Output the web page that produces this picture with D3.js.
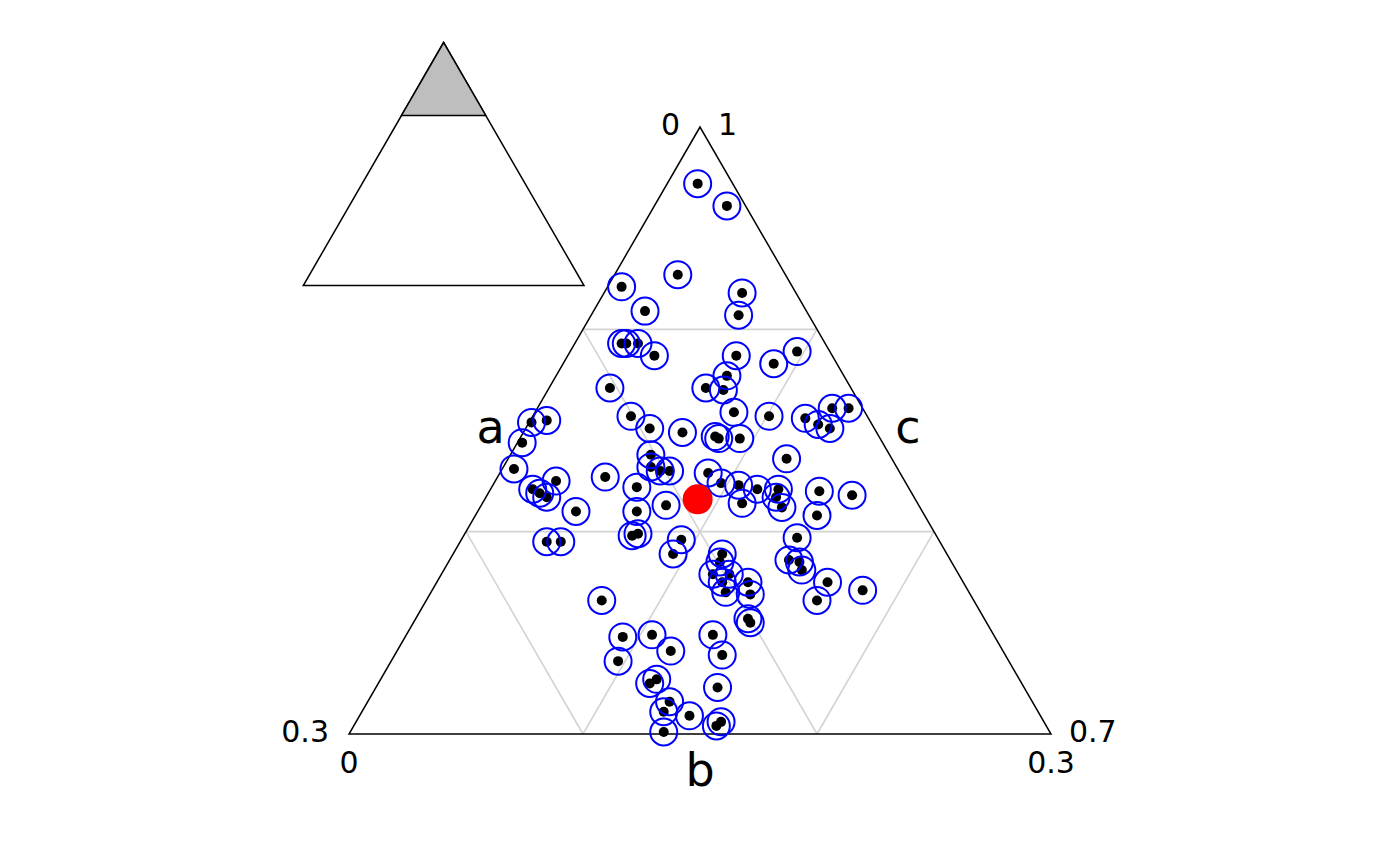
<!DOCTYPE html>
<html>
<head>
<meta charset="utf-8">
<script src="https://cdn.jsdelivr.net/npm/d3@7"></script>
<style>
html,body{margin:0;padding:0;background:#fff;}
svg{display:block;font-family:"DejaVu Sans",sans-serif;}
</style>
</head>
<body>
<svg id="chart" width="1400" height="866"></svg>
<script>
// ---- data (ternary compositions, a = 1 - b - c) ----
const bVals = [0.015,0.008,0.046,0.073,0.023,0.069,0.030,0.087,0.085,0.080,
0.076,0.041,0.014,0.027,0.103,0.062,0.050,0.055,0.101,0.096,
0.056,0.042,0.027,0.023,0.019,0.013,0.006,0.145,0.138,0.154,
0.164,0.083,0.070,0.069,0.060,0.102,0.105,0.102,0.098,0.127,
0.082,0.079,0.045,0.149,0.161,0.159,0.157,0.116,0.108,0.072,
0.075,0.065,0.056,0.059,0.059,0.039,0.026,0.046,0.148,0.122,
0.130,0.127,0.168,0.162,0.110,0.060,0.117,0.096,0.099,0.105,
0.098,0.103,0.104,0.092,0.094,0.101,0.101,0.069,0.065,0.066,
0.058,0.067,0.045,0.159,0.159,0.146,0.142,0.167,0.120,0.121,
0.159,0.155,0.155,0.160,0.165,0.150,0.131,0.141,0.138];
const cVals = [0.013,0.031,0.027,0.006,0.059,0.022,0.063,0.020,0.022,0.027,
0.037,0.072,0.097,0.090,0.026,0.067,0.073,0.075,0.042,0.053,
0.085,0.101,0.117,0.124,0.130,0.126,0.133,0.001,0.007,0.002,
0.005,0.068,0.083,0.085,0.094,0.060,0.063,0.068,0.072,0.046,
0.089,0.097,0.119,0.026,0.018,0.022,0.026,0.062,0.079,0.105,
0.111,0.114,0.123,0.124,0.129,0.141,0.156,0.146,0.042,0.068,
0.072,0.074,0.037,0.043,0.094,0.143,0.094,0.115,0.116,0.116,
0.123,0.122,0.126,0.133,0.137,0.142,0.144,0.145,0.150,0.153,
0.167,0.167,0.184,0.075,0.093,0.105,0.117,0.097,0.131,0.140,
0.116,0.118,0.129,0.129,0.134,0.141,0.146,0.155,0.156];
const centre = {b: 0.093, c: 0.091};

// zoom region limits
const aLim = [0.7, 1];
const bLim = [0, 0.3];
const cLim = [0, 0.3];
const gridA = [0.8, 0.9];
const gridB = [0.1, 0.2];
const gridC = [0.1, 0.2];
const leftTicks = [0, 0.3];   // b along left side
const rightTicks = [1, 0.7];  // a along right side
const bottomTicks = [0, 0.3]; // c along bottom
const axisLabels = {left: "a", right: "c", bottom: "b"};

const svg = d3.select("#chart");
svg.append("rect").attr("width",1400).attr("height",866).attr("fill","#fff");

// ---- main (zoomed) ternary scales ----
const xS = d3.scaleLinear().domain([aLim[0]/2 + bLim[0], aLim[0]/2 + cLim[1]]).range([349,1051]);
const yS = d3.scaleLinear().domain(aLim).range([734,127]);
const P = (a,b,c) => [xS(c + a/2), yS(a)];

const g = svg.append("g");

// grid lines
const lines = [];
gridA.forEach(a => { const r = 1 - a; lines.push([P(a, r, 0), P(a, 0, r)]); });
gridB.forEach(b => { lines.push([P(1 - b, b, 0), P(aLim[0], b, 1 - aLim[0] - b)]); });
gridC.forEach(c => { lines.push([P(1 - c, 0, c), P(aLim[0], 1 - aLim[0] - c, c)]); });
g.selectAll("line.grid").data(lines).join("line")
  .attr("class","grid")
  .attr("x1", d => d[0][0]).attr("y1", d => d[0][1])
  .attr("x2", d => d[1][0]).attr("y2", d => d[1][1])
  .attr("stroke", "#d3d3d3").attr("stroke-width", 1.6);

// triangle outline
const corners = [P(aLim[1],0,0), P(aLim[0],bLim[1],0), P(aLim[0],0,cLim[1])];
g.append("path").attr("d", d3.line()(corners) + "Z")
  .attr("fill","none").attr("stroke","#000").attr("stroke-width",1.5);

// tick labels
const fs = 30;
leftTicks.forEach(t => {
  const p = P(1 - t, t, 0);
  g.append("text").attr("x", p[0] - 20).attr("y", p[1] + 8)
    .attr("text-anchor","end").attr("font-size", fs).text(t);
});
rightTicks.forEach(t => {
  const p = P(t, 0, 1 - t);
  g.append("text").attr("x", p[0] + 18).attr("y", p[1] + 8)
    .attr("text-anchor","start").attr("font-size", fs).text(t);
});
bottomTicks.forEach(t => {
  const p = P(aLim[0], 1 - aLim[0] - t, t);
  g.append("text").attr("x", p[0]).attr("y", p[1] + 39)
    .attr("text-anchor","middle").attr("font-size", fs).text(t);
});

// axis labels
const lfs = 46;
g.append("text").attr("x", 490.5).attr("y", 443).attr("text-anchor","middle")
  .attr("font-size", lfs).text(axisLabels.left);
g.append("text").attr("x", 908).attr("y", 443).attr("text-anchor","middle")
  .attr("font-size", lfs).text(axisLabels.right);
g.append("text").attr("x", 700).attr("y", 786).attr("text-anchor","middle")
  .attr("font-size", lfs).text(axisLabels.bottom);

// points
const pts = bVals.map((b,i) => { const c = cVals[i]; return P(1 - b - c, b, c); });
g.selectAll("circle.dot").data(pts).join("circle")
  .attr("class","dot").attr("cx", d => d[0]).attr("cy", d => d[1])
  .attr("r", 5).attr("fill","#000");
g.selectAll("circle.ring").data(pts).join("circle")
  .attr("class","ring").attr("cx", d => d[0]).attr("cy", d => d[1])
  .attr("r", 13.5).attr("fill","none").attr("stroke","#0000ff").attr("stroke-width",2);
const cp = P(1 - centre.b - centre.c, centre.b, centre.c);
g.append("circle").attr("cx", cp[0]).attr("cy", cp[1]).attr("r", 15).attr("fill","#ff0000");

// ---- inset: full triangle with zoom region shaded ----
const xI = d3.scaleLinear().domain([0,1]).range([303.3,584]);
const yI = d3.scaleLinear().domain([0,1]).range([285.5,42.5]);
const PI = (a,b,c) => [xI(c + a/2), yI(a)];
const gi = svg.append("g");
gi.append("path").attr("d", d3.line()([PI(1,0,0), PI(0,1,0), PI(0,0,1)]) + "Z")
  .attr("fill","none").attr("stroke","#000").attr("stroke-width",1.5);
gi.append("path").attr("d", d3.line()([PI(aLim[1],0,0), PI(aLim[0],bLim[1],0), PI(aLim[0],0,cLim[1])]) + "Z")
  .attr("fill","#bebebe").attr("stroke","#000").attr("stroke-width",1.5);
</script>
</body>
</html>
